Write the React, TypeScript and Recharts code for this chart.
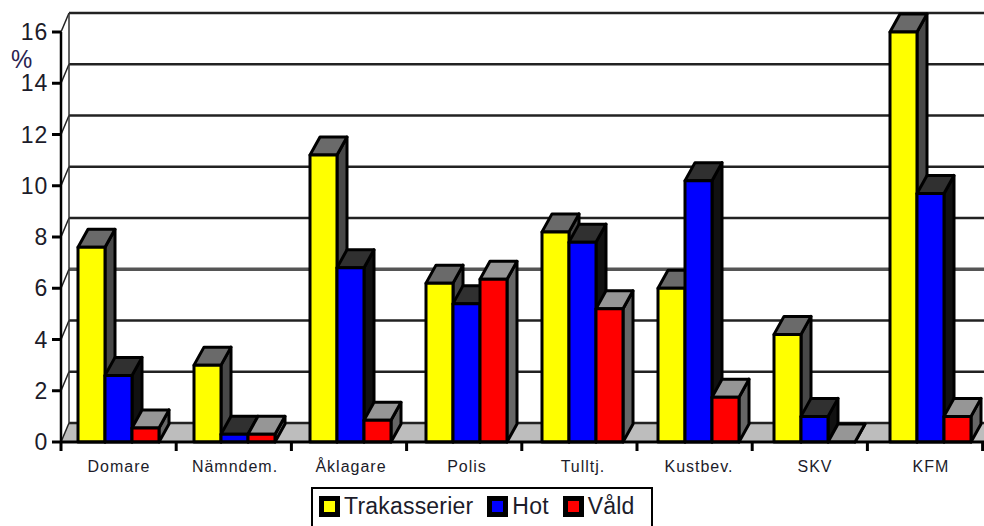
import { BarChart, Bar, XAxis, YAxis, CartesianGrid, Legend } from 'recharts'

const categories = ['Domare', 'Nämndem.', 'Åklagare', 'Polis', 'Tulltj.', 'Kustbev.', 'SKV', 'KFM']
const trakasserier = [7.6, 3.0, 11.2, 6.2, 8.2, 6.0, 4.2, 16.0]
const hot = [2.6, 0.3, 6.8, 5.4, 7.8, 10.2, 1.0, 9.7]
const vald = [0.55, 0.3, 0.85, 6.35, 5.2, 1.75, 0, 1.0]
const yTicks = [0, 2, 4, 6, 8, 10, 12, 14, 16]
const seriesNames = ['Trakasserier', 'Hot', 'Våld']

const data = categories.map((name, i) => ({
  name,
  trakasserier: trakasserier[i],
  hot: hot[i],
  vald: vald[i],
}))

const W = 984
const H = 526
const LEFT = 61
// the plot runs slightly past the right edge of the page, like in the scan
const CHART_W = 990
const RIGHT = 1
// tick marks in the scan sit a bit tighter than the bars
const TICK_STEP = 115.2

// depth of the fake 3D box
const WALL_DX = 8
const WALL_DY = 19
const BAR_DX = 10
const BAR_DY = 18

const FONT = '"Liberation Sans", Arial, sans-serif'
const TEXT = '#1c1c2a'

function GridLine(props: any) {
  const { x1, x2, y1, index } = props
  const isFloor = Math.abs(y1 - 442) < 2
  const isTop = Math.abs(y1 - 32) < 2
  const isSix = Math.abs(y1 - 288) < 2
  const backY = y1 - WALL_DY
  return (
    <g key={index}>
      {isFloor && (
        <polygon
          points={`${x1},${y1} ${x1 + WALL_DX},${backY} ${x2 + 10},${backY} ${x2 + 10},${y1}`}
          fill="#bdbdbd"
        />
      )}
      <line
        x1={x1 + WALL_DX}
        y1={backY}
        x2={x2 + WALL_DX}
        y2={backY}
        stroke={isSix ? '#555' : '#222'}
        strokeWidth={isSix ? 3.5 : 2.4}
      />
      <line x1={x1} y1={y1} x2={x1 + WALL_DX} y2={backY} stroke="#222" strokeWidth={1.5} />
      {isTop && (
        <line x1={x1 + WALL_DX} y1={backY} x2={x1 + WALL_DX} y2={backY + 411} stroke="#333" strokeWidth={1.5} />
      )}
    </g>
  )
}

function box3d(topFill: string, sideFill: string) {
  return function Box(props: any) {
    const { x, y, width, height, fill } = props
    const r = x + width
    const b = y + height
    return (
      <g stroke="#000" strokeWidth={3} strokeLinejoin="round">
        <polygon
          points={`${r},${y} ${r + BAR_DX},${y - BAR_DY} ${r + BAR_DX},${b - BAR_DY} ${r},${b}`}
          fill={sideFill}
        />
        <polygon
          points={`${x},${y} ${x + BAR_DX},${y - BAR_DY} ${r + BAR_DX},${y - BAR_DY} ${r},${y}`}
          fill={topFill}
        />
        {height > 0 && <rect x={x} y={y} width={width} height={height} fill={fill} />}
      </g>
    )
  }
}

function CategoryTick(props: any) {
  const { x, y, index, payload } = props
  const left = LEFT + index * TICK_STEP
  return (
    <g>
      <line x1={left} y1={442} x2={left} y2={451} stroke="#000" strokeWidth={3} />
      {index === categories.length - 1 && (
        <line x1={left + TICK_STEP} y1={442} x2={left + TICK_STEP} y2={451} stroke="#000" strokeWidth={3} />
      )}
      <text
        x={x}
        y={y}
        dy={22}
        textAnchor="middle"
        fontFamily={FONT}
        fontSize={16}
        letterSpacing={1}
        fill={TEXT}
      >
        {payload.value}
      </text>
    </g>
  )
}

function LegendBox(props: any) {
  const { payload } = props
  return (
    <div
      style={{
        boxSizing: 'border-box',
        width: 342,
        height: 50,
        border: '2.5px solid #000',
        background: '#fff',
        display: 'flex',
        alignItems: 'flex-start',
        paddingLeft: 6,
        paddingTop: 4,
        fontFamily: FONT,
        fontSize: 23,
        letterSpacing: 0.2,
        color: TEXT,
        lineHeight: '26px',
      }}
    >
      {(payload || []).map((entry: any) => (
        <span key={entry.value} style={{ display: 'flex', alignItems: 'center', marginRight: 14 }}>
          <span
            style={{
              boxSizing: 'border-box',
              display: 'inline-block',
              width: 21,
              height: 21,
              border: '5px solid #000',
              background: entry.color,
              marginRight: 4,
            }}
          />
          {entry.value}
        </span>
      ))}
    </div>
  )
}

export default function App() {
  return (
    <div style={{ position: 'fixed', left: 0, top: 0, width: W, height: H, overflow: 'hidden', background: '#fff' }}>
      <BarChart
        width={CHART_W}
        height={H}
        data={data}
        margin={{ top: 32, right: RIGHT, bottom: 54, left: 0 }}
        barCategoryGap={17}
        barGap={0}
      >
        <CartesianGrid vertical={false} horizontal={GridLine} />
        <XAxis
          dataKey="name"
          axisLine={{ stroke: '#000', strokeWidth: 3 }}
          tickLine={false}
          height={30}
          interval={0}
          tick={CategoryTick}
        />
        <YAxis
          width={LEFT}
          domain={[0, 16]}
          ticks={yTicks}
          interval={0}
          axisLine={{ stroke: '#000', strokeWidth: 2.5 }}
          tickLine={{ stroke: '#000', strokeWidth: 3 }}
          tickSize={9}
          tickMargin={4}
          tick={{ fontFamily: FONT, fontSize: 23, fill: TEXT, letterSpacing: 0.8 }}
        />
        <Legend
          layout="horizontal"
          align="center"
          verticalAlign="middle"
          wrapperStyle={{ left: 311, top: 487, width: 342 }}
          itemSorter={(entry: any) => seriesNames.indexOf(entry.value)}
          content={LegendBox}
        />
        <Bar dataKey="trakasserier" name={seriesNames[0]} fill="#ffff00" shape={box3d('#6a6a6a', '#484848')} isAnimationActive={false} />
        <Bar dataKey="hot" name={seriesNames[1]} fill="#0000ff" shape={box3d('#303030', '#111111')} isAnimationActive={false} />
        <Bar dataKey="vald" name={seriesNames[2]} fill="#ff0000" shape={box3d('#969696', '#666666')} isAnimationActive={false} />
      </BarChart>
      <div style={{ position: 'absolute', left: 11, top: 44, fontFamily: FONT, fontSize: 26, color: '#2a2250', transform: 'scaleX(0.92)', transformOrigin: 'left' }}>
        %
      </div>
    </div>
  )
}
